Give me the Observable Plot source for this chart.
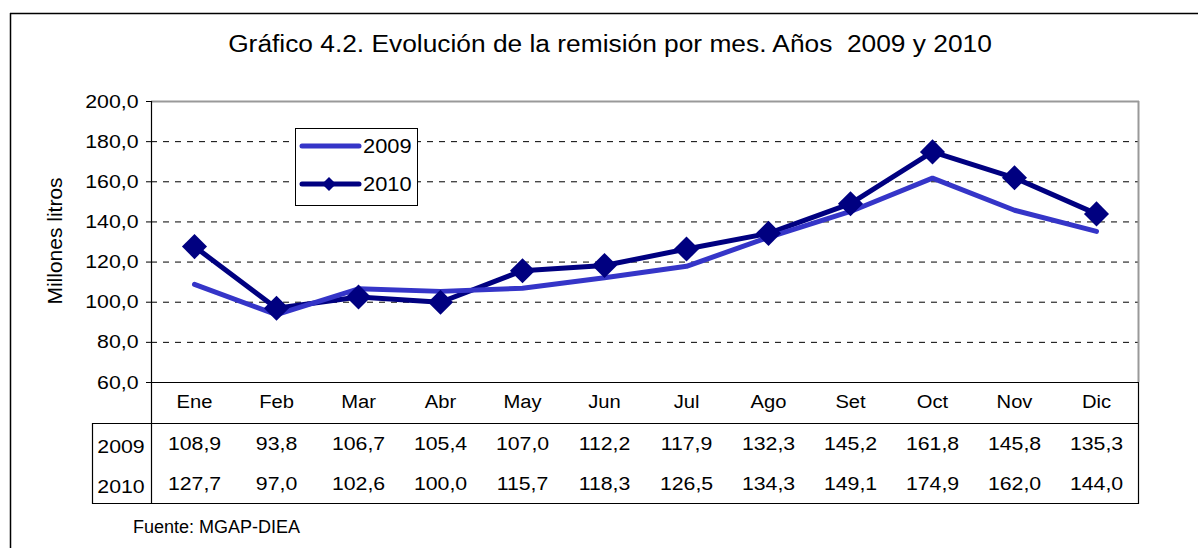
<!DOCTYPE html>
<html><head><meta charset="utf-8">
<script src="https://cdn.jsdelivr.net/npm/d3@7"></script>
<script src="https://cdn.jsdelivr.net/npm/@observablehq/plot@0.6"></script>
<style>
body{margin:0;background:#fff;}
svg{font-family:"Liberation Sans",Arial,sans-serif;}
</style>
</head><body><div id="chart"></div>
<script>
const months = ["Ene","Feb","Mar","Abr","May","Jun","Jul","Ago","Set","Oct","Nov","Dic"];
const v2009 = [108.9,93.8,106.7,105.4,107.0,112.2,117.9,132.3,145.2,161.8,145.8,135.3];
const v2010 = [127.7,97.0,102.6,100.0,115.7,118.3,126.5,134.3,149.1,174.9,162.0,144.0];
const seriesNames = ["2009","2010"];
const seriesColors = ["#3535c8","#000080"];
const yTicks = [60,80,100,120,140,160,180,200];
const titleText = "Gráfico 4.2. Evolución de la remisión por mes. Años  2009 y 2010";
const yLabelText = "Millones litros";
const sourceText = "Fuente: MGAP-DIEA";

const data = months.flatMap((m,i)=>[
  {month:m, year:seriesNames[0], value:v2009[i]},
  {month:m, year:seriesNames[1], value:v2010[i]}
]);
const fmt = v => d3.format(".1f")(v).replace(".", ",");

const W=1198, H=548, L=151, R=1139, T=101, B=382;
const diamond = {draw(ctx, size){const h=Math.sqrt(size/2); ctx.moveTo(0,-h); ctx.lineTo(h,0); ctx.lineTo(0,h); ctx.lineTo(-h,0); ctx.closePath();}};
const d2009 = data.filter(d=>d.year==="2009");
const d2010 = data.filter(d=>d.year==="2010");

const svg = Plot.plot({
  width:W, height:H, marginLeft:L, marginRight:W-R, marginTop:T, marginBottom:H-B,
  style:{fontFamily:'"Liberation Sans",Arial,sans-serif', fontSize:"19px", color:"#000", background:"#fff", overflow:"visible"},
  x:{type:"point", domain:months, padding:0.5, axis:null},
  y:{domain:[60,200], ticks:yTicks, tickFormat:fmt, tickSize:5, tickPadding:8, label:null},
  marks:[
    Plot.ruleY(yTicks.filter(t=>t>60 && t<200), {stroke:"#000", strokeDasharray:"6,6", strokeWidth:1}),
    Plot.line(d2010, {x:"month", y:"value", stroke:seriesColors[1], strokeWidth:5, strokeLinejoin:"round", strokeLinecap:"round"}),
    Plot.line(d2009, {x:"month", y:"value", stroke:seriesColors[0], strokeWidth:5, strokeLinejoin:"round", strokeLinecap:"round"}),
    Plot.dot(d2010, {x:"month", y:"value", symbol:diamond, r:10, fill:seriesColors[1], stroke:null}),
    Plot.text(months, {x:d=>d, text:d=>d, frameAnchor:"bottom", dy:25, fontSize:18, fill:"#000"}),
    Plot.text(d2009, {x:"month", text:d=>fmt(d.value), frameAnchor:"bottom", dy:67, fontSize:19, fill:"#000"}),
    Plot.text(d2010, {x:"month", text:d=>fmt(d.value), frameAnchor:"bottom", dy:107, fontSize:19, fill:"#000"})
  ]
});
document.getElementById("chart").appendChild(svg);

const g = d3.select(svg).append("g").attr("text-anchor","start");
const line = (x1,y1,x2,y2,stroke="#000",w=1) => g.append("line").attr("x1",x1).attr("y1",y1).attr("x2",x2).attr("y2",y2).attr("stroke",stroke).attr("stroke-width",w);
// outer frame
line(10.5,13,10.5,H,"#000",1.5);
line(10,13.5,W,13.5,"#000",1.5);
// plot border
line(L,101.5,R,101.5,"#999",2);
line(R-0.5,101,R-0.5,B,"#999",2);
// axes and table
line(L+0.5,101,L+0.5,503.5,"#000",1.2);
line(L,B+0.5,R,B+0.5,"#000",1.2);
line(92,423.5,R,423.5,"#000",1.2);
line(92,503.5,R,503.5,"#000",1.2);
line(92.5,423,92.5,504,"#000",1.2);
line(R-0.5,B,R-0.5,504,"#000",1.2);
// row labels
seriesNames.forEach((s,i)=>{
  g.append("text").attr("x",121).attr("y",446+i*40).attr("dy","0.35em").attr("text-anchor","middle").attr("font-size",19).attr("fill","#000").text(s);
});
// title
g.append("text").attr("x",610).attr("y",52).attr("text-anchor","middle").attr("font-size",23.5).attr("fill","#000").style("white-space","pre").text(titleText);
// y label
g.append("text").attr("class","nostretch").attr("transform","translate(62,241) rotate(-90)").attr("text-anchor","middle").attr("font-size",21).attr("fill","#000").text(yLabelText);
// source
g.append("text").attr("class","nostretch").attr("x",133).attr("y",533).attr("text-anchor","start").attr("font-size",18).attr("fill","#000").text(sourceText);
// legend
g.append("rect").attr("x",295.5).attr("y",128.5).attr("width",122).attr("height",77).attr("fill","#fff").attr("stroke","#000").attr("stroke-width",1);
seriesNames.forEach((s,i)=>{
  const yy = 146 + i*38;
  g.append("line").attr("x1",302).attr("y1",yy).attr("x2",359).attr("y2",yy).attr("stroke",seriesColors[i]).attr("stroke-width",5).attr("stroke-linecap","round");
  if(i===1) g.append("path").attr("d",`M329,${yy-7}L336,${yy}L329,${yy+7}L322,${yy}Z`).attr("fill",seriesColors[i]);
  g.append("text").attr("x",363).attr("y",yy).attr("dy","0.35em").attr("text-anchor","start").attr("font-size",19.5).attr("fill","#000").text(s);
});

// horizontal stretch of glyphs, as in the reference
const STRETCH = 1.12;
d3.select(svg).selectAll("text").each(function(){
  if (this.classList.contains("nostretch")) return;
  const tspans = this.querySelectorAll("tspan");
  const targets = tspans.length ? Array.from(tspans) : [this];
  targets.forEach(t => {
    const len = t.getComputedTextLength();
    if (len > 0) { t.setAttribute("textLength", len*STRETCH); t.setAttribute("lengthAdjust","spacingAndGlyphs"); }
  });
});
</script>
</body></html>
